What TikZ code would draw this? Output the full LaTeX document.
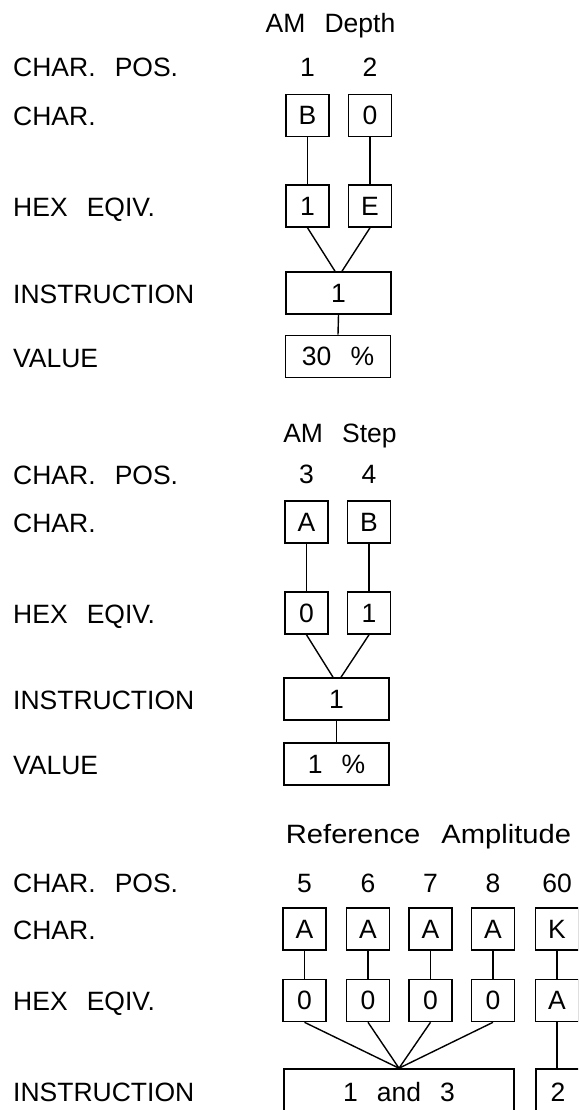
\documentclass[tikz,border=0pt]{standalone}
\usepackage{graphicx}
\usepackage{fontspec}
\setmainfont{Liberation Sans}[WordSpace=2.6]
\begin{document}
\begin{tikzpicture}[x=1pt,y=-1pt,
  font=\fontsize{26.5}{30}\selectfont,
  box/.style={draw, line width=1.6pt, inner sep=0pt, minimum width=43pt, minimum height=42pt},
  wbox/.style={box, minimum width=105pt},
  lbl/.style={anchor=base west, inner sep=0pt},
  num/.style={anchor=base, inner sep=0pt},
  head/.style={anchor=base, inner sep=0pt},
  conn/.style={line width=1.4pt}]
\useasboundingbox (0,0) rectangle (578,1110);
\fill[white] (0,0) rectangle (578,1110);
\clip (0,0) rectangle (578,1110);

% ---------- Section 1: AM Depth
\node[head] (t1) at (330.5,33) {AM Depth};
\node[lbl] (l1a) at (13,77) {CHAR. POS.};
\node[num] (p1) at (307.5,77) {1};
\node[num] (p2) at (370,77) {2};
\node[lbl] (l1b) at (13,126) {CHAR.};
\node[box] (c1a) at (307.5,115.5) {B};
\node[box] (c1b) at (370,115.5) {0};
\node[lbl] (l1c) at (13,216) {HEX EQIV.};
\node[box] (h1a) at (307.5,206) {1};
\node[box] (h1b) at (370,206) {E};
\node[lbl] (l1d) at (13,303) {INSTRUCTION};
\node[wbox] (i1) at (338.5,293) {1\hspace{12pt}};
\node[lbl] (l1e) at (13,367) {VALUE};
\node[wbox] (v1) at (338,356.5) {30 \%};
\draw[conn] (c1a.south) -- (h1a.north);
\draw[conn] (c1b.south) -- (h1b.north);
\draw[conn] (h1a.south) -- ([xshift=-3.5pt]i1.north);
\draw[conn] (h1b.south) -- ([xshift=3.5pt]i1.north);
\draw[conn] (i1.south) -- (v1.north);

% ---------- Section 2: AM Step
\node[head] (t2) at (340,442) {AM Step};
\node[lbl] (l2a) at (13,484) {CHAR. POS.};
\node[num] (p3) at (306.5,483) {3};
\node[num] (p4) at (369,483) {4};
\node[lbl] (l2b) at (13,532) {CHAR.};
\node[box] (c2a) at (306.5,522) {A};
\node[box] (c2b) at (369,522) {B};
\node[lbl] (l2c) at (13,623) {HEX EQIV.};
\node[box] (h2a) at (306.5,613) {0};
\node[box] (h2b) at (369,613) {1};
\node[lbl] (l2d) at (13,709) {INSTRUCTION};
\node[wbox] (i2) at (336.5,699) {1\hspace{12pt}};
\node[lbl] (l2e) at (13,774) {VALUE};
\node[wbox] (v2) at (336.5,764) {1 \%\hspace{12pt}};
\draw[conn] (c2a.south) -- (h2a.north);
\draw[conn] (c2b.south) -- (h2b.north);
\draw[conn] (h2a.south) -- ([xshift=-3.5pt]i2.north);
\draw[conn] (h2b.south) -- ([xshift=4.5pt]i2.north);
\draw[conn] (i2.south) -- (v2.north);

% ---------- Section 3: Reference Amplitude
\node[head] (t3) at (428.5,843) {\scalebox{1.1}[1]{Reference Amplitude}};
\node[lbl] (l3a) at (13,892) {CHAR. POS.};
\node[num] (p5) at (304.5,892) {5};
\node[num] (p6) at (368,892) {6};
\node[num] (p7) at (430.5,892) {7};
\node[num] (p8) at (493,892) {8};
\node[num] (p60) at (557,892) {60};
\node[lbl] (l3b) at (13,939) {CHAR.};
\node[box] (c3a) at (304.5,929) {A};
\node[box] (c3b) at (368,929) {A};
\node[box] (c3c) at (430.5,929) {A};
\node[box] (c3d) at (493,929) {A};
\node[box] (c3e) at (557,929) {K};
\node[lbl] (l3c) at (13,1010) {HEX EQIV.};
\node[box] (h3a) at (304.5,1000.5) {0};
\node[box] (h3b) at (368,1000.5) {0};
\node[box] (h3c) at (430.5,1000.5) {0};
\node[box] (h3d) at (493,1000.5) {0};
\node[box] (h3e) at (557,1000.5) {A};
\node[lbl] (l3d) at (13,1101) {INSTRUCTION};
\node[box, minimum width=230pt, minimum height=46pt] (i3) at (399,1092) {1 and 3};
\node[box, minimum width=44pt, minimum height=46pt] (i3b) at (558,1092) {2};
\draw[conn] (c3a.south) -- (h3a.north);
\draw[conn] (c3b.south) -- (h3b.north);
\draw[conn] (c3c.south) -- (h3c.north);
\draw[conn] (c3d.south) -- (h3d.north);
\draw[conn] (c3e.south) -- (h3e.north);
\draw[conn] (h3a.south) -- (i3.north);
\draw[conn] (h3b.south) -- (i3.north);
\draw[conn] (h3c.south) -- (i3.north);
\draw[conn] (h3d.south) -- (i3.north);
\draw[conn] (h3e.south) -- (h3e.south |- i3b.north);
\end{tikzpicture}
\end{document}
